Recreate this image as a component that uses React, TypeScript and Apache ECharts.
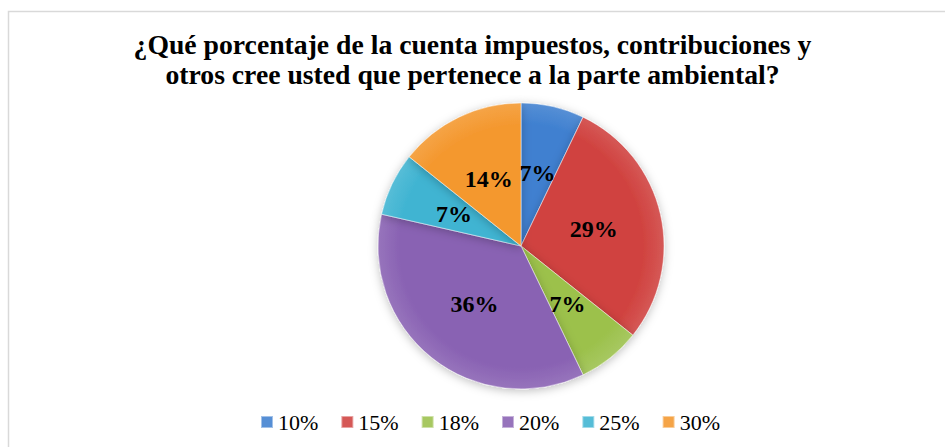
import React, { useEffect, useRef } from "react";
import * as echarts from "echarts";

const titleLines = [
  "¿Qué porcentaje de la cuenta impuestos, contribuciones y",
  "otros cree usted que pertenece a la parte ambiental?",
];
const categories = ["10%", "15%", "18%", "20%", "25%", "30%"];
const counts = [1, 4, 1, 5, 1, 2];
const colors = ["#3F80D0", "#D0423F", "#9CC14C", "#8962B3", "#40B4D2", "#F4982F"];

const FONT = "'Liberation Serif', 'Times New Roman', serif";

export default function App() {
  const ref = useRef<HTMLDivElement>(null);
  useEffect(() => {
    document.body.style.margin = "0";
    const chart = echarts.init(ref.current!, null, { renderer: "svg" });
    const cx = 521;
    const cy = 246;
    const R = 143;
    chart.setOption({
      animation: false,
      backgroundColor: "#ffffff",
      title: {
        text: titleLines.join("\n"),
        left: "center",
        top: 29,
        padding: 0,
        textStyle: {
          fontFamily: FONT,
          fontWeight: "bold",
          fontSize: 27.7,
          lineHeight: 30,
          color: "#000000",
        },
      },
      graphic: [
        {
          type: "rect",
          shape: { x: 8.5, y: 11.5, width: 1000, height: 1000 },
          style: { fill: "none", stroke: "#d9d9d9", lineWidth: 1.5 },
          silent: true,
        },
      ],
      legend: {
        bottom: 14,
        left: 260,
        padding: 0,
        itemWidth: 12,
        itemHeight: 12,
        itemGap: 22,
        icon: "rect",
        textStyle: { fontFamily: FONT, fontSize: 22, color: "#000000", padding: [0, 0, 0, 0] },
        data: categories,
      },
      series: [
        {
          type: "pie",
          center: [cx, cy],
          radius: R,
          startAngle: 90,
          clockwise: true,
          data: categories.map((c, i) => ({
            name: c,
            value: counts[i],
            itemStyle: {
              color: {
                type: "radial",
                x: cx,
                y: cy,
                r: R,
                global: true,
                colorStops: [
                  { offset: 0, color: colors[i] },
                  { offset: 0.85, color: colors[i] },
                  { offset: 1, color: echarts.color.lift(colors[i], 0.12) },
                ],
              },
            },
          })),
          itemStyle: {
            borderColor: "rgba(255,255,255,0.45)",
            borderWidth: 1,
            shadowBlur: 10,
            shadowColor: "rgba(0,0,0,0.25)",
            shadowOffsetY: 2,
          },
          label: {
            show: true,
            position: "inside",
            formatter: (p: any) => Math.round(p.percent) + "%",
            fontFamily: FONT,
            fontWeight: "bold",
            fontSize: 24,
            color: "#000000",
          },
          labelLine: { show: false },
        },
      ],
    });
    return () => chart.dispose();
  }, []);
  return <div ref={ref} style={{ width: 945, height: 447 }} />;
}
